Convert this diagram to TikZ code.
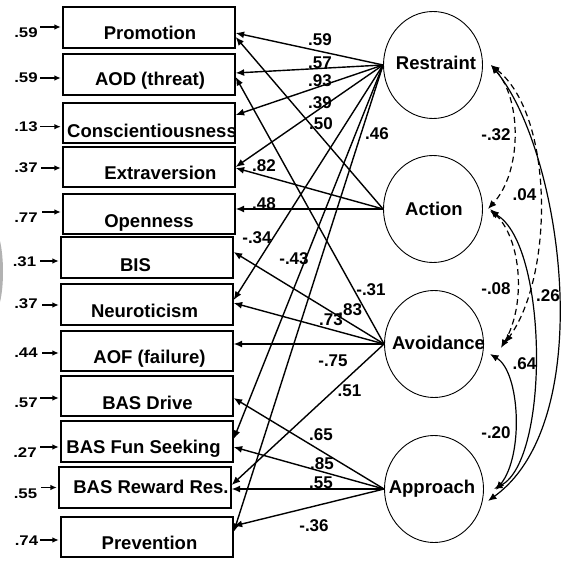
\documentclass[tikz,border=0pt]{standalone}
\usepackage{fontspec}
\usepackage{graphicx}
\setmainfont{Liberation Sans}
\usetikzlibrary{arrows.meta,shapes.geometric}
\begin{document}
\begin{tikzpicture}[x=1pt,y=-1pt,
  box/.style={draw, line width=1.3pt, minimum width=172pt, inner sep=0pt},
  latent/.style={draw, ellipse, line width=0.9pt, minimum width=99pt, minimum height=107pt, inner sep=0pt},
  varname/.style={anchor=base, inner sep=0pt, font=\fontsize{18.5}{20}\selectfont\bfseries},
  coef/.style={inner sep=0pt, font=\fontsize{17}{19}\selectfont\bfseries},
  errlbl/.style={inner sep=0pt, font=\fontsize{14}{16}\selectfont\bfseries},
  loading/.style={line width=1.4pt, -{Latex[length=8.5pt,width=7pt]}},
  corr/.style={line width=1.2pt, {Latex[length=8.5pt,width=7pt]}-{Latex[length=8.5pt,width=7pt]}},
  corrdash/.style={corr, dash pattern=on 6pt off 4pt},
  err/.style={line width=1.3pt, -{Latex[length=6.5pt,width=5.5pt]}, shorten >=1.5pt},
]
\useasboundingbox (0,0) rectangle (561,561);

% faint mark at the left edge
\fill[gray!60] (0,241) .. controls (4,258) and (4,286) .. (0,302) -- cycle;

% observed measures
\node[box, minimum height=41pt] (b1)  at (149,27.5)  {};
\node[box, minimum height=41pt] (b2)  at (149,74.5)  {};
\node[box, minimum height=40pt] (b3)  at (149,123)   {};
\node[box, minimum height=40pt] (b4)  at (149,167)   {};
\node[box, minimum height=40pt] (b5)  at (149,214)   {};
\node[box, minimum height=41pt] (b6)  at (147,257.5) {};
\node[box, minimum height=41pt] (b7)  at (147,304.5) {};
\node[box, minimum height=40pt] (b8)  at (147,351)   {};
\node[box, minimum height=40pt] (b9)  at (147,396)   {};
\node[box, minimum height=41pt] (b10) at (147,441.5) {};
\node[box, minimum height=41pt] (b11) at (145,487.5) {};
\node[box, minimum height=40pt] (b12) at (147,537)   {};

\node[varname] (t1)  at (150,40)    {Promotion};
\node[varname] (t2)  at (150,86)    {AOD (threat)};
\node[varname] (t3)  at (152,138)   {Conscientiousness};
\node[varname] (t4)  at (160.5,180) {Extraversion};
\node[varname] (t5)  at (149,227)   {Openness};
\node[varname] (t6)  at (135.5,271) {BIS};
\node[varname] (t7)  at (144.5,317) {Neuroticism};
\node[varname] (t8)  at (149.5,363) {AOF (failure)};
\node[varname] (t9)  at (147.5,409) {BAS Drive};
\node[varname] (t10) at (143.5,453) {BAS Fun Seeking};
\node[varname] (t11) at (151,493)   {BAS Reward Res.};
\node[varname] (t12) at (149.5,549) {Prevention};

% latent factors
\node[latent] (R)   at (433,65)  {};
\node[latent] (Act) at (433,209) {};
\node[latent] (Av)  at (434,344) {};
\node[latent] (Ap)  at (434,489) {};
\node[varname] (tR)   at (436,70)    {Restraint};
\node[varname] (tAct) at (434,215)   {Action};
\node[varname] (tAv)  at (438.5,349) {Avoidance};
\node[varname] (tAp)  at (432,493)   {Approach};

% residuals
\node[errlbl] (r1)  at (26,33)    {\scalebox{1.2}[1]{.59}};
\node[errlbl] (r2)  at (26,77.7)  {\scalebox{1.2}[1]{.59}};
\node[errlbl] (r3)  at (26,126.7) {\scalebox{1.2}[1]{.13}};
\node[errlbl] (r4)  at (26,168)   {\scalebox{1.2}[1]{.37}};
\node[errlbl] (r5)  at (26,217.5) {\scalebox{1.2}[1]{.77}};
\node[errlbl] (r6)  at (24.5,262) {\scalebox{1.2}[1]{.31}};
\node[errlbl] (r7)  at (26,304)   {\scalebox{1.2}[1]{.37}};
\node[errlbl] (r8)  at (26,353)   {\scalebox{1.2}[1]{.44}};
\node[errlbl] (r9)  at (26,403)   {\scalebox{1.2}[1]{.57}};
\node[errlbl] (r10) at (25,452.5) {\scalebox{1.2}[1]{.27}};
\node[errlbl] (r11) at (25.5,494) {\scalebox{1.2}[1]{.55}};
\node[errlbl] (r12) at (26.5,541) {\scalebox{1.2}[1]{.74}};

\coordinate (e1)  at (40,27);
\coordinate (e2)  at (40,78);
\coordinate (e3)  at (40,126.7);
\coordinate (e4)  at (41,168);
\coordinate (e5)  at (42,212);
\coordinate (e6)  at (40,261);
\coordinate (e7)  at (42,305);
\coordinate (e8)  at (42,353);
\coordinate (e9)  at (40,398);
\coordinate (e10) at (40,447);
\coordinate (e11) at (41,487.5);
\coordinate (e12) at (40,540);
\foreach \i in {1,...,12} \draw[err] (e\i) -- (b\i.west |- e\i);

% loadings of Restraint
\draw[loading] (R.west) -- (b1.east |- 0,33);
\draw[loading] (R.west) -- (b2.east |- 0,73);
\draw[loading] (R.west) -- (b3.east |- 0,115);
\draw[loading] (R.west) -- (b4.east |- 0,167);
\draw[loading] (R.west) -- (b7.east |- 0,300);
\draw[loading] (R.west) -- (b10.east |- 0,439);
\draw[loading] (R.west) -- (b12.east |- 0,532);
% loadings of Action
\draw[loading] (Act.west) -- (b1.east |- 0,37);
\draw[loading] (Act.west) -- (b4.east |- 0,168);
\draw[loading] (Act.west) -- (b5.east |- 0,209);
% loadings of Avoidance
\draw[loading] (Av.west) -- (b2.east |- 0,77);
\draw[loading] (Av.west) -- (b6.east |- 0,252);
\draw[loading] (Av.west) -- (b7.east |- 0,303);
\draw[loading] (Av.west) -- (b8.east |- 0,344);
\draw[loading] (Av.west) -- (b11.east |- 0,485);
% loadings of Approach
\draw[loading] (Ap.west) -- (b9.east |- 0,398);
\draw[loading] (Ap.west) -- (b10.east |- 0,447);
\draw[loading] (Ap.west) -- (b11.east |- 0,489);
\draw[loading] (Ap.west) -- (b12.east |- 0,526);

% loading values
\node[coef] (c1)  at (320,40)    {.59};
\node[coef] (c2)  at (320,63)    {.57};
\node[coef] (c3)  at (320,81)    {.93};
\node[coef] (c4)  at (320,103)   {.39};
\node[coef] (c5)  at (321,124)   {.50};
\node[coef] (c6)  at (377,134)   {.46};
\node[coef] (c7)  at (264,166)   {.82};
\node[coef] (c8)  at (264,204)   {.48};
\node[coef] (c9)  at (257,238)   {-.34};
\node[coef] (c10) at (294,259)   {-.43};
\node[coef] (c11) at (371,290)   {-.31};
\node[coef] (c12) at (350.3,309.5) {.83};
\node[coef] (c13) at (331,320)   {.73};
\node[coef] (c14) at (333,361)   {-.75};
\node[coef] (c15) at (349.5,391) {.51};
\node[coef] (c16) at (321,435)   {.65};
\node[coef] (c17) at (322,464)   {.85};
\node[coef] (c18) at (321,483)   {.55};
\node[coef] (c19) at (314,526)   {-.36};

% factor correlations
\draw[corrdash] ([xshift=8pt]R.east) .. controls (522,100) and (522,172) .. ([xshift=5pt]Act.east);
\draw[corrdash] ([xshift=8pt]R.east) .. controls (554,115) and (554,275) .. ([xshift=21pt,yshift=1pt]Av.east);
\draw[corrdash] ([xshift=7pt]Act.east) .. controls (522,240) and (526,305) .. ([xshift=17pt,yshift=-4pt]Av.east);
\draw[corr] ([xshift=8pt]R.east) .. controls (562,150) and (600,420) .. ([xshift=4pt,yshift=-12pt]Ap.east);
\draw[corr] ([xshift=7pt,yshift=-2pt]Act.east) .. controls (548,245) and (550,460) .. ([xshift=10pt]Ap.east);
\draw[corr] ([xshift=6pt,yshift=-10pt]Av.east) .. controls (520,372) and (524,455) .. ([xshift=12pt,yshift=-1pt]Ap.east);

\node[coef] (k1) at (496,135)   {-.32};
\node[coef] (k2) at (524.5,195) {.04};
\node[coef] (k3) at (496,288.5) {-.08};
\node[coef] (k4) at (548,296)   {.26};
\node[coef] (k5) at (524.5,363.5) {.64};
\node[coef] (k6) at (496,433)   {-.20};
\end{tikzpicture}
\end{document}
